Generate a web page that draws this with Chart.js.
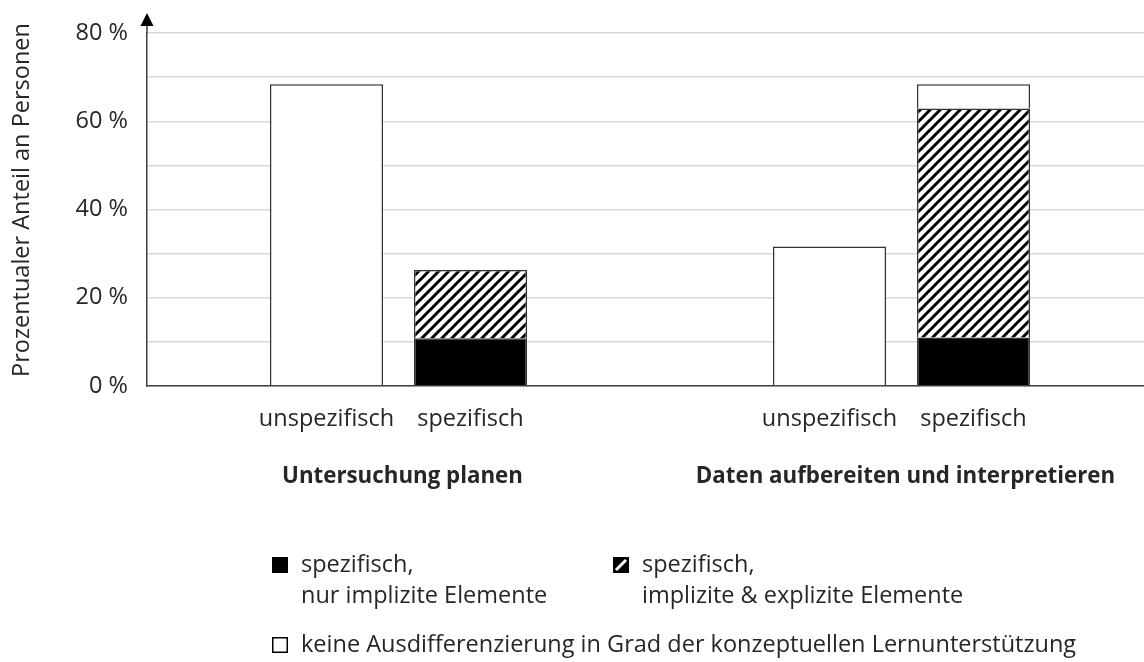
<!DOCTYPE html>
<html><head><meta charset="utf-8">
<script src="https://cdn.jsdelivr.net/npm/chart.js@4.4.1/dist/chart.umd.min.js"></script>
<style>
html,body{margin:0;padding:0;background:#fff;overflow:hidden;width:1144px;height:662px}
#wrap{position:absolute;left:0;top:0;width:1153px;height:662px}
</style>
</head><body><div id="wrap"><canvas id="c"></canvas></div>
<script>
const categories = ['Untersuchung planen', 'Daten aufbereiten und interpretieren'];
const subLabels = ['unspezifisch', 'spezifisch'];
const unspezifisch = [68.4, 31.6];
const spezNurImplizit = [10.8, 11.0];
const spezImplizitExplizit = [15.5, 51.9];
const spezKeineAusdiff = [null, 5.5];
const yTicks = [0, 20, 40, 60, 80];
const yTitle = 'Prozentualer Anteil an Personen';
const legendItems = [
  ['spezifisch,', 'nur implizite Elemente'],
  ['spezifisch,', 'implizite & explizite Elemente'],
  ['keine Ausdifferenzierung in Grad der konzeptuellen Lernunterstützung']
];

const FONT = '"Open Sans", "Noto Sans", sans-serif';
const FS = 23.5;
const TXT = '#262626';
const AX = '#404040';

function makeHatch() {
  const s = 10, c = document.createElement('canvas');
  c.width = s; c.height = s;
  const g = c.getContext('2d');
  g.fillStyle = '#fff'; g.fillRect(0, 0, s, s);
  g.strokeStyle = '#000'; g.lineWidth = 3; g.beginPath();
  g.moveTo(0, s); g.lineTo(s, 0);
  g.moveTo(-s / 2, s / 2); g.lineTo(s / 2, -s / 2);
  g.moveTo(s / 2, s * 1.5); g.lineTo(s * 1.5, s / 2);
  g.stroke();
  return g.createPattern(c, 'repeat');
}
const hatch = makeHatch();

const extras = {
  id: 'extras',
  afterDraw(chart) {
    const ctx = chart.ctx, ca = chart.chartArea;
    ctx.save();
    // y axis arrow
    ctx.strokeStyle = AX; ctx.lineWidth = 1.5;
    ctx.beginPath(); ctx.moveTo(ca.left, ca.top); ctx.lineTo(ca.left, ca.top - 8); ctx.stroke();
    ctx.fillStyle = '#000';
    ctx.beginPath(); ctx.moveTo(ca.left, ca.top - 20); ctx.lineTo(ca.left - 6.5, ca.top - 7); ctx.lineTo(ca.left + 6.5, ca.top - 7); ctx.closePath(); ctx.fill();
    // y title
    ctx.save();
    ctx.translate(22, 200); ctx.rotate(-Math.PI / 2);
    ctx.fillStyle = TXT; ctx.font = FS + 'px ' + FONT; ctx.textAlign = 'center'; ctx.textBaseline = 'middle';
    ctx.fillText(yTitle, 0, 0);
    ctx.restore();
    // sub labels under bars and group labels
    ctx.fillStyle = TXT; ctx.font = FS + 'px ' + FONT; ctx.textAlign = 'center'; ctx.textBaseline = 'middle';
    const m0 = chart.getDatasetMeta(0), m1 = chart.getDatasetMeta(1);
    const xs = chart.scales.x;
    for (let i = 0; i < categories.length; i++) {
      ctx.fillText(subLabels[0], m0.data[i].x, ca.bottom + 33);
      ctx.fillText(subLabels[1], m1.data[i].x, ca.bottom + 33);
    }
    ctx.font = 'bold 22.3px ' + FONT;
    for (let i = 0; i < categories.length; i++) {
      ctx.fillText(categories[i], xs.getPixelForValue(i) + 4, ca.bottom + 91);
    }
    // legend
    ctx.font = FS + 'px ' + FONT;
    ctx.textAlign = 'left'; ctx.textBaseline = 'alphabetic';
    const drawItem = (sx, sy, kind, lines) => {
      if (kind === 'black') { ctx.fillStyle = '#000'; ctx.fillRect(sx, sy, 16, 16); }
      else if (kind === 'hatch') {
        ctx.fillStyle = '#000'; ctx.fillRect(sx, sy, 16, 16);
        ctx.strokeStyle = '#fff'; ctx.lineWidth = 3;
        ctx.beginPath(); ctx.moveTo(sx + 3, sy + 13); ctx.lineTo(sx + 13, sy + 3); ctx.stroke();
        ctx.strokeStyle = '#000'; ctx.lineWidth = 1.5; ctx.strokeRect(sx + 0.75, sy + 0.75, 14.5, 14.5);
      } else {
        ctx.fillStyle = '#fff'; ctx.fillRect(sx, sy, 16, 16);
        ctx.strokeStyle = '#000'; ctx.lineWidth = 1.5; ctx.strokeRect(sx + 0.75, sy + 0.75, 14.5, 14.5);
      }
      ctx.fillStyle = TXT;
      lines.forEach((t, k) => ctx.fillText(t, sx + 29, sy + 15 + k * 31));
    };
    drawItem(272, 557, 'black', legendItems[0]);
    drawItem(613, 557, 'hatch', legendItems[1]);
    drawItem(272, 637, 'white', legendItems[2]);
    ctx.restore();
  }
};

new Chart(document.getElementById('c'), {
  type: 'bar',
  data: {
    labels: categories,
    datasets: [
      { label: legendItems[2][0], data: unspezifisch, stack: 'u', backgroundColor: '#fff', borderColor: '#333', borderWidth: 1.5 },
      { label: legendItems[0].join(' '), data: spezNurImplizit, stack: 's', backgroundColor: '#000', borderColor: '#333', borderWidth: 1.5 },
      { label: legendItems[1].join(' '), data: spezImplizitExplizit, stack: 's', backgroundColor: hatch, borderColor: '#333', borderWidth: 1.5 },
      { label: legendItems[2][0], data: spezKeineAusdiff, stack: 's', backgroundColor: '#fff', borderColor: '#333', borderWidth: 1.5 }
    ]
  },
  options: {
    responsive: true, maintainAspectRatio: false, animation: false, devicePixelRatio: 1,
    layout: { padding: { top: 32, right: 0, bottom: 0, left: 0 } },
    categoryPercentage: 0.5726, barPercentage: 0.785,
    plugins: { legend: { display: false }, tooltip: { enabled: false } },
    scales: {
      x: {
        stacked: true,
        grid: { display: false, drawTicks: false },
        border: { display: true, color: AX, width: 1.5 },
        ticks: { display: false },
        afterFit(s) { s.height = 662 - 386; }
      },
      y: {
        stacked: true, min: 0, max: 80,
        grid: { color: '#d9d9d9', lineWidth: 1.5, drawTicks: false },
        border: { display: true, color: AX, width: 1.5 },
        ticks: { stepSize: 10, color: TXT, padding: 19, font: { family: FONT, size: FS },
          callback: v => (yTicks.includes(v) ? v + ' %' : '') },
        title: { display: false, text: yTitle },
        afterFit(s) { s.width = 147; }
      }
    }
  },
  plugins: [extras]
});
</script>
</body></html>
